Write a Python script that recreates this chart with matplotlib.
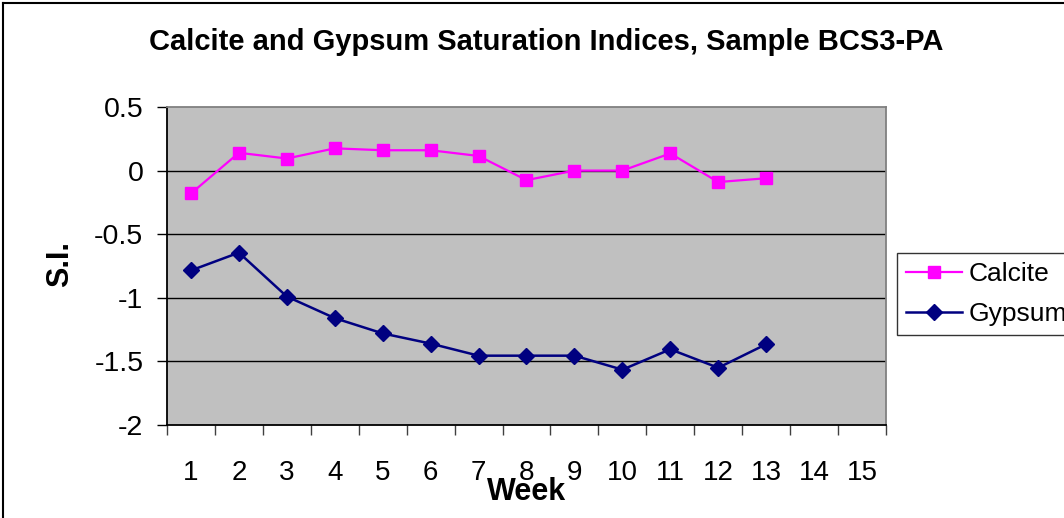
import matplotlib
matplotlib.use('Agg')
import matplotlib.pyplot as plt
import numpy as np
from matplotlib.lines import Line2D
from matplotlib.ticker import FixedLocator

plt.rcParams['font.family'] = ['Liberation Sans', 'DejaVu Sans']

weeks = list(range(1, 14))
week_ticks = list(range(1, 16))
calcite = [-0.18, 0.14, 0.095, 0.175, 0.16, 0.16, 0.115, -0.075, 0.0, 0.0, 0.135, -0.09, -0.06]
gypsum = [-0.785, -0.645, -0.99, -1.16, -1.28, -1.36, -1.455, -1.455, -1.455, -1.565, -1.405, -1.55, -1.365]
yticks = [0.5, 0, -0.5, -1, -1.5, -2]
ytick_labels = ['0.5', '0', '-0.5', '-1', '-1.5', '-2']

W, H = 1064, 518
fig = plt.figure(figsize=(W / 100, H / 100), dpi=100)
ax = fig.add_axes([167 / W, 1 - 425 / H, (886 - 167) / W, (425 - 107) / H])
ax.set_facecolor('#C0C0C0')

ax.plot(weeks, calcite, color='#FF00FF', lw=1.6, marker='s', ms=8.5,
        mec='#FF00FF', label='Calcite', zorder=3)
ax.plot(weeks, gypsum, color='#000080', lw=1.8, marker='D', ms=8,
        mec='#000080', label='Gypsum', zorder=3)

ax.set_xlim(0.5, 15.5)
ax.set_ylim(-2, 0.5)

# gridlines
for y in yticks[1:-1]:
    ax.axhline(y, color='black', lw=1, zorder=1)

ax.set_yticks(yticks)
ax.set_yticklabels(ytick_labels)
ax.tick_params(axis='y', direction='out', length=7, width=1, pad=10, labelsize=20.5)

ax.set_xticks(week_ticks)
ax.set_xticklabels([str(w) for w in week_ticks])
ax.xaxis.set_minor_locator(FixedLocator(np.arange(0.5, 16, 1)))
ax.tick_params(axis='x', which='major', length=0, pad=25, labelsize=20)
ax.tick_params(axis='x', which='minor', direction='out', length=7, width=1, color='#404040')

for s in ['left', 'bottom']:
    ax.spines[s].set_color('black')
    ax.spines[s].set_linewidth(1.3)
for s in ['top', 'right']:
    ax.spines[s].set_color('#808080')
    ax.spines[s].set_linewidth(1.3)

fig.text(546 / W, 1 - 42 / H, 'Calcite and Gypsum Saturation Indices, Sample BCS3-PA',
         ha='center', va='center', fontsize=21, fontweight='bold')
fig.text(527 / W, 1 - 492 / H, 'Week', ha='center', va='center', fontsize=22, fontweight='bold')
fig.text(60 / W, 1 - 264 / H, 'S.I.', ha='center', va='center', rotation=90,
         fontsize=22, fontweight='bold')

leg = fig.legend(loc='upper left', bbox_to_anchor=(897 / W, 1 - 253 / H), borderaxespad=0,
                 fontsize=19, frameon=True, fancybox=False, handlelength=2.1,
                 handletextpad=0.25, borderpad=0.35, labelspacing=0.6)
leg.get_frame().set_edgecolor('black')
leg.get_frame().set_linewidth(1)

# outer chart border (left and top visible)
fig.add_artist(Line2D([3 / W, 3 / W], [0, 1 - 3 / H], color='black', lw=1.5))
fig.add_artist(Line2D([3 / W, 1], [1 - 3 / H, 1 - 3 / H], color='black', lw=1.5))

fig.savefig('out.png', dpi=100)
